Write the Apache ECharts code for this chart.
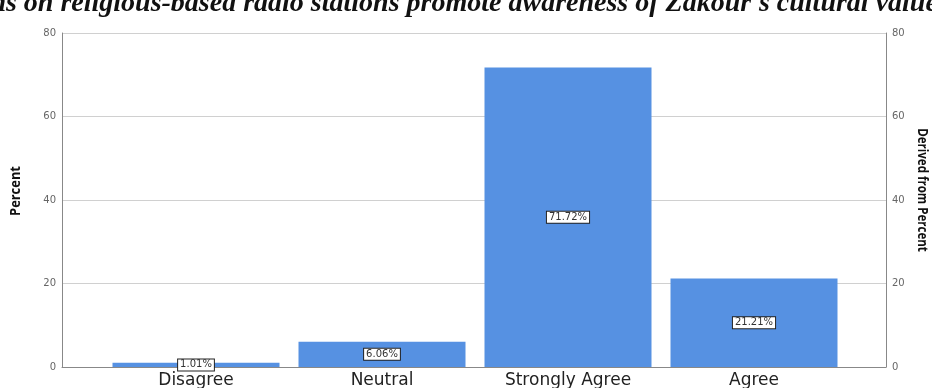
<!DOCTYPE html>
<html><head><meta charset="utf-8">
<script src="https://cdn.jsdelivr.net/npm/echarts@6/dist/echarts.min.js"></script>
<style>html,body{margin:0;padding:0;background:#fff}#c{width:932px;height:388px}</style>
</head><body><div id="c"></div>
<script>
const categories = ['Disagree', 'Neutral', 'Strongly Agree', 'Agree'];
const percentValues = [1.01, 6.06, 71.72, 21.21];
const yTicks = { min: 0, max: 80, interval: 20 };
const leftAxisName = 'Percent';
const rightAxisName = 'Derived from Percent';
const titleText = "rams on religious-based radio stations promote awareness of Zakour's cultural values";

const chart = echarts.init(document.getElementById('c'), null, { renderer: 'canvas' });
const tickLabel = { color: '#666', fontSize: 10, fontFamily: 'DejaVu Sans' };
const nameFont = 'bold 15px "Open Sans", sans-serif';
chart.setOption({
  animation: false,
  graphic: [
    { type: 'text', x: 454, y: 4,
      style: { text: titleText, font: 'italic bold 28px "Liberation Serif", serif', fill: '#111', align: 'center', verticalAlign: 'middle' } },
    { type: 'text', x: 16, y: 191, rotation: Math.PI / 2, scaleX: 0.86,
      style: { text: leftAxisName, font: nameFont, fill: '#111', align: 'center', verticalAlign: 'middle' } },
    { type: 'text', x: 922, y: 190, rotation: -Math.PI / 2, scaleX: 0.77,
      style: { text: rightAxisName, font: nameFont, fill: '#111', align: 'center', verticalAlign: 'middle' } }
  ],
  grid: [
    { left: 62, right: 46, top: 33, bottom: 21, outerBoundsMode: 'none', containLabel: false },
    { left: 103, right: 85, top: 33, bottom: 21, outerBoundsMode: 'none', containLabel: false }
  ],
  xAxis: [
    { type: 'category', gridIndex: 0, data: categories, axisLine: { lineStyle: { color: '#888' } }, axisTick: { show: false }, axisLabel: { show: false } },
    { type: 'category', gridIndex: 1, data: categories, axisLine: { show: false }, axisTick: { show: false },
      axisLabel: { margin: 5, color: '#222', fontSize: 17, fontFamily: 'DejaVu Sans' } }
  ],
  yAxis: [
    { type: 'value', gridIndex: 0, position: 'left', min: yTicks.min, max: yTicks.max, interval: yTicks.interval,
      axisLine: { show: true, lineStyle: { color: '#888' } }, axisTick: { show: false },
      axisLabel: Object.assign({ margin: 6 }, tickLabel),
      splitLine: { lineStyle: { color: '#d0d0d0' } } },
    { type: 'value', gridIndex: 0, position: 'right', min: yTicks.min, max: yTicks.max, interval: yTicks.interval,
      axisLine: { show: true, lineStyle: { color: '#888' } }, axisTick: { show: false },
      axisLabel: Object.assign({ margin: 6 }, tickLabel), splitLine: { show: false } },
    { type: 'value', gridIndex: 1, min: yTicks.min, max: yTicks.max, interval: yTicks.interval, show: false }
  ],
  series: [{
    type: 'bar', xAxisIndex: 1, yAxisIndex: 2, data: percentValues, barCategoryGap: 19,
    itemStyle: { color: '#5691e2' },
    label: {
      show: true, position: 'inside', formatter: p => p.value.toFixed(2) + '%',
      color: '#333', fontSize: 10, fontFamily: 'DejaVu Sans',
      backgroundColor: '#fff', borderColor: '#222', borderWidth: 1, padding: [1, 2, 0, 2]
    }
  }]
});
</script></body></html>
